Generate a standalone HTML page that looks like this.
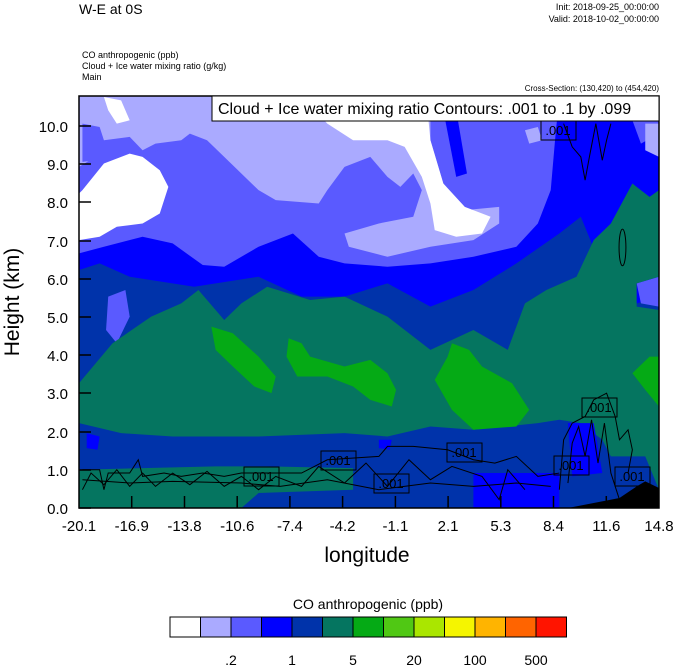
<!DOCTYPE html>
<html><head><meta charset="utf-8"><style>
body{margin:0;background:#fff;}
svg{display:block;font-family:"Liberation Sans",sans-serif;}
</style></head><body>
<svg width="674" height="667" viewBox="0 0 674 667">
<text x="79" y="14" font-size="14">W-E at 0S</text>
<text x="659" y="10" font-size="9" text-anchor="end">Init: 2018-09-25_00:00:00</text>
<text x="659" y="22" font-size="9" text-anchor="end">Valid: 2018-10-02_00:00:00</text>
<text x="82" y="58" font-size="9">CO anthropogenic   (ppb)</text>
<text x="82" y="69" font-size="9">Cloud + Ice water mixing ratio   (g/kg)</text>
<text x="82" y="80" font-size="9">Main</text>
<text x="659" y="91" font-size="8" text-anchor="end">Cross-Section: (130,420) to (454,420)</text>

<svg x="79" y="96" width="580" height="412" viewBox="182 17 1350 1238" preserveAspectRatio="none">
<rect x="182" y="17" width="1350" height="1238" fill="#0033aa"/>
<polygon fill="#0000ff" points="182,17 1532,17 1532,620 1480,640 1420,600 1350,380 1300,430 1200,520 1100,600 1000,650 900,580 800,620 700,620 600,560 450,590 300,560 230,520 182,540"/>
<polygon fill="#5a5aff" points="182,17 1300,17 1290,150 1280,300 1250,400 1200,470 1100,500 1000,520 900,530 800,520 740,500 680,430 600,470 520,530 470,525 400,460 330,440 240,470 182,490"/>
<polygon fill="#5a5aff" points="1460,17 1532,17 1532,130 1490,160 1470,90"/>
<polygon fill="#0000ff" points="1030,60 1060,60 1085,250 1060,260"/>
<polygon fill="#5a5aff" points="250,620 290,600 300,680 270,760 245,720"/>
<polygon fill="#5a5aff" points="1480,580 1532,560 1532,650 1490,640"/>
<polygon fill="#aaaaff" points="182,17 1000,17 1000,150 1030,280 1080,360 1160,350 1160,400 1100,450 1000,470 900,500 810,470 800,430 880,400 960,380 980,300 960,250 930,290 900,260 860,200 800,230 760,300 740,340 640,330 600,300 520,200 480,150 440,130 420,150 360,160 330,180 300,140 240,150 220,200 182,230"/>
<polygon fill="#5a5aff" points="190,100 230,110 245,170 220,210 190,215"/>
<polygon fill="#5a5aff" points="350,190 380,170 420,230 450,320 420,340 380,300"/>
<polygon fill="#aaaaff" points="1220,120 1250,110 1260,150 1230,160"/>
<polygon fill="#aaaaff" points="1500,100 1532,100 1532,200 1500,180"/>
<polygon fill="#ffffff" points="190,300 240,220 300,190 330,200 370,240 390,290 370,370 330,400 270,410 230,440 182,450 182,310"/>
<polygon fill="#ffffff" points="240,20 280,30 300,90 270,100 250,60"/>
<polygon fill="#ffffff" points="700,17 990,17 1000,150 1030,280 1080,350 1140,380 1120,430 1060,440 1010,420 1000,340 980,260 940,170 900,150 820,150 760,100"/>
<polygon fill="#ffffff" points="520,17 580,17 560,40"/>
<polygon fill="#057560" points="182,880 260,760 350,680 420,640 460,600 520,690 560,640 620,590 720,630 800,620 900,680 1000,780 1100,720 1180,780 1220,640 1270,600 1340,560 1380,450 1420,400 1470,280 1510,320 1532,300 1532,560 1480,580 1480,650 1532,660 1532,1200 1500,1100 1420,1100 1400,1050 1350,1000 1300,990 1250,1000 1100,1020 1000,1010 900,1040 800,1030 600,1040 400,1040 280,1030 182,1000"/>
<polygon fill="#05aa15" points="490,710 540,730 600,800 640,860 630,910 590,890 540,830 500,780"/>
<polygon fill="#05aa15" points="670,745 700,760 720,800 800,830 860,810 900,850 920,900 910,950 860,930 820,890 760,860 690,860 665,800"/>
<polygon fill="#05aa15" points="1050,760 1090,780 1120,830 1190,880 1230,960 1200,1010 1100,1020 1050,960 1010,870 1040,800"/>
<polygon fill="#05aa15" points="1470,850 1510,800 1532,800 1532,950 1500,900"/>
<polygon fill="#0000ff" points="200,1030 230,1040 225,1080 200,1075"/>
<polygon fill="#0000ff" points="880,1050 910,1050 905,1080 880,1075"/>
<polygon fill="#0000ff" points="1100,1150 1300,1150 1300,1255 1100,1255"/>
<polygon fill="#0000ff" points="1320,1000 1380,1000 1400,1150 1330,1160"/>
<polygon fill="#057560" points="182,1140 500,1130 620,1130 820,1135 820,1200 600,1210 560,1255 182,1255"/>
<polygon fill="#000" points="1320,1255 1380,1240 1440,1225 1480,1190 1500,1175 1532,1195 1532,1255"/>
<g fill="none" stroke="#000" stroke-width="1">
<polyline vector-effect="non-scaling-stroke" points="190,1140 230,1140 240,1200 250,1150 300,1150 320,1110 330,1160 380,1150 420,1160 470,1150 520,1160 560,1150 700,1150 760,1110 880,1100 900,1070 960,1070 1040,1080 1100,1110 1150,1120 1200,1100 1250,1160 1300,1150"/>
<polyline vector-effect="non-scaling-stroke" points="190,1170 300,1180 400,1175 560,1180 650,1190 760,1170 880,1200 1000,1180 1100,1190 1200,1180 1280,1190"/>
<polyline vector-effect="non-scaling-stroke" points="190,1200 210,1150 240,1185 270,1140 300,1190 330,1150 360,1190 400,1150 440,1185 480,1145 520,1190 560,1160 600,1200 640,1160 700,1190 740,1130 800,1180 850,1120 900,1190 950,1110 1000,1170 1050,1130 1120,1160 1160,1230 1180,1140 1220,1200"/>
<polyline vector-effect="non-scaling-stroke" points="1300,1200 1310,1050 1330,1000 1360,980 1380,930 1410,910 1430,980 1440,1050 1460,1020 1470,1080 1460,1150"/>
<polyline vector-effect="non-scaling-stroke" points="1320,1180 1330,1060 1345,1010 1360,1100 1375,990 1390,1120 1405,1000 1420,1150 1440,1230"/>
<polyline vector-effect="non-scaling-stroke" points="1310,100 1330,170 1350,200 1360,270 1370,200 1385,100 1400,210 1410,150 1420,100"/>
<ellipse vector-effect="non-scaling-stroke" cx="1447" cy="472" rx="8" ry="55"/>
</g>
</svg>
<rect x="79" y="96" width="580" height="412" fill="none" stroke="#000" stroke-width="1.5"/>

<rect x="212" y="96" width="447" height="25" fill="#fff" stroke="#000" stroke-width="1"/>
<text x="218" y="114" font-size="16">Cloud + Ice water mixing ratio Contours: .001 to .1 by .099</text>
<g font-size="13" text-anchor="middle">
<g fill="none" stroke="#000"><rect x="541" y="121" width="35" height="19"/><rect x="244" y="467" width="35" height="19"/><rect x="321" y="451" width="35" height="19"/><rect x="374" y="474" width="35" height="19"/><rect x="447" y="443" width="35" height="19"/><rect x="554" y="456" width="35" height="19"/><rect x="582" y="398" width="35" height="19"/><rect x="615" y="467" width="35" height="19"/></g>
<text x="558" y="135">.001</text><text x="261" y="481">.001</text><text x="338" y="465">.001</text><text x="391" y="488">.001</text><text x="464" y="457">.001</text><text x="571" y="470">.001</text><text x="599" y="412">.001</text><text x="632" y="481">.001</text>
</g>

<g stroke="#000" stroke-width="1.5">
<line x1="79" y1="508" x2="91" y2="508"/><line x1="79" y1="470" x2="91" y2="470"/><line x1="79" y1="432" x2="91" y2="432"/><line x1="79" y1="393" x2="91" y2="393"/><line x1="79" y1="355" x2="91" y2="355"/><line x1="79" y1="317" x2="91" y2="317"/><line x1="79" y1="279" x2="91" y2="279"/><line x1="79" y1="241" x2="91" y2="241"/><line x1="79" y1="202" x2="91" y2="202"/><line x1="79" y1="164" x2="91" y2="164"/><line x1="79" y1="126" x2="91" y2="126"/>
<line x1="131.7" y1="508" x2="131.7" y2="496"/><line x1="184.5" y1="508" x2="184.5" y2="496"/><line x1="237.2" y1="508" x2="237.2" y2="496"/><line x1="289.9" y1="508" x2="289.9" y2="496"/><line x1="342.6" y1="508" x2="342.6" y2="496"/><line x1="395.4" y1="508" x2="395.4" y2="496"/><line x1="448.1" y1="508" x2="448.1" y2="496"/><line x1="500.8" y1="508" x2="500.8" y2="496"/><line x1="553.5" y1="508" x2="553.5" y2="496"/><line x1="606.3" y1="508" x2="606.3" y2="496"/>
</g>
<g font-size="15" text-anchor="end">
<text x="68" y="514">0.0</text><text x="68" y="476">1.0</text><text x="68" y="438">2.0</text><text x="68" y="399">3.0</text><text x="68" y="361">4.0</text><text x="68" y="323">5.0</text><text x="68" y="285">6.0</text><text x="68" y="247">7.0</text><text x="68" y="208">8.0</text><text x="68" y="170">9.0</text><text x="68" y="132">10.0</text>
</g>
<g font-size="15" text-anchor="middle">
<text x="79" y="531">-20.1</text><text x="131.7" y="531">-16.9</text><text x="184.5" y="531">-13.8</text><text x="237.2" y="531">-10.6</text><text x="289.9" y="531">-7.4</text><text x="342.6" y="531">-4.2</text><text x="395.4" y="531">-1.1</text><text x="448.1" y="531">2.1</text><text x="500.8" y="531">5.3</text><text x="553.5" y="531">8.4</text><text x="606.3" y="531">11.6</text><text x="659" y="531">14.8</text>
</g>
<text x="367" y="562" font-size="21" text-anchor="middle">longitude</text>
<text transform="translate(19,302) rotate(-90)" font-size="21" text-anchor="middle">Height (km)</text>

<text x="368" y="609" font-size="14" text-anchor="middle">CO anthropogenic  (ppb)</text>
<g stroke="#000" stroke-width="1">
<rect x="170" y="617" width="30.5" height="20" fill="#ffffff"/>
<rect x="200.5" y="617" width="30.5" height="20" fill="#aaaaff"/>
<rect x="231" y="617" width="30.5" height="20" fill="#5a5aff"/>
<rect x="261.5" y="617" width="30.5" height="20" fill="#0000ff"/>
<rect x="292" y="617" width="30.5" height="20" fill="#0033aa"/>
<rect x="322.5" y="617" width="30.5" height="20" fill="#057560"/>
<rect x="353" y="617" width="30.5" height="20" fill="#05aa15"/>
<rect x="383.5" y="617" width="30.5" height="20" fill="#50c814"/>
<rect x="414" y="617" width="30.5" height="20" fill="#aae600"/>
<rect x="444.5" y="617" width="30.5" height="20" fill="#f5f500"/>
<rect x="475" y="617" width="30.5" height="20" fill="#ffb400"/>
<rect x="505.5" y="617" width="30.5" height="20" fill="#ff6400"/>
<rect x="536" y="617" width="30.5" height="20" fill="#ff1400"/>
</g>
<g font-size="14" text-anchor="middle">
<text x="231" y="665">.2</text><text x="292" y="665">1</text><text x="353" y="665">5</text><text x="414" y="665">20</text><text x="475" y="665">100</text><text x="536" y="665">500</text>
</g>
</svg>
</body></html>
